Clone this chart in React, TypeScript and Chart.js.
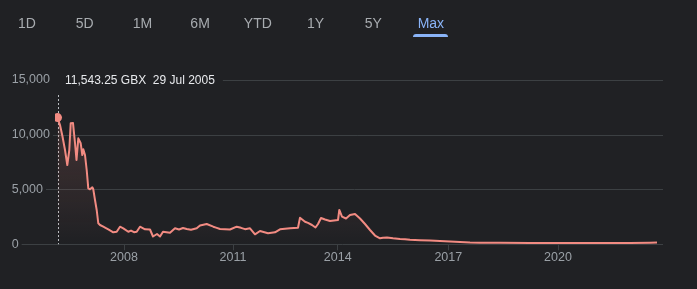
import React, { useEffect, useRef } from 'react';
import { Chart, registerables } from 'chart.js';

Chart.register(...registerables);

// x = trading-sample index along the "Max" timeline (Google-style, non-uniform in calendar time)
const tradeIdx = [
  2.5, 5, 7.5, 10, 12.3, 14.3, 15.7, 18, 20, 21.5, 23.3, 25.7, 27.3, 28.3, 30, 31.7, 33.3, 35, 37.3, 38.3,
  40, 41.7, 43.3, 45, 48.3, 50.5, 53.3, 58.3, 61.7, 65, 68.3, 73.3, 76, 79, 81.7, 85, 90, 95, 98, 102, 105, 108, 115,
  120, 124, 128, 131.7, 136, 141.7, 145, 151.7, 158.3, 161, 165, 175, 181.7, 186, 190, 195, 200, 205, 213, 220, 225, 230, 235, 243, 245, 250, 253, 257,
  260.5, 263, 266, 270, 275, 283, 284.3, 287, 291, 295, 300, 305, 310, 315, 320, 325, 328, 332, 338, 345, 350, 355,
  365, 375, 385, 395, 405, 415, 425, 445, 475, 505, 545, 575, 595, 602,
];
const priceGBX = [
  11543, 10865, 9817, 8588, 7222, 8588, 11019, 11047, 9225, 7677, 9653, 9198, 8133, 8652, 8133, 6767, 5100, 5009, 5191, 5009,
  4035, 3124, 1912, 1758, 1603, 1500, 1366, 1093, 1147, 1603, 1457, 1147, 1250, 1100, 1147, 1603, 1366, 1348, 710, 938, 710, 1147, 1056,
  1457, 1350, 1480, 1393, 1330, 1457, 1712, 1849, 1603, 1520, 1393, 1348, 1603, 1500, 1380, 1457, 911, 1211, 1002, 1093, 1366, 1420, 1457, 1512, 2422, 2058, 1950, 1758,
  1530, 1849, 2395, 2259, 2122, 2213, 3124, 2514, 2350, 2668, 2759, 2350, 1849, 1302, 801, 546, 600, 619, 546, 483, 470, 410,
  373, 346, 300, 255, 210, 164, 146, 137, 128, 118, 118, 118, 137, 155,
];
const yearTickIdx = [69, 178, 282.7, 393.3, 503];
const yearLabels = ['2008', '2011', '2014', '2017', '2020'];
const yMax = 15000;
const yStep = 5000;
const rangeTabs = ['1D', '5D', '1M', '6M', 'YTD', '1Y', '5Y', 'Max'];
const activeTab = 'Max';
const tooltipText = '11,543.25 GBX  29 Jul 2005';

const BG = '#202124';
const LINE = '#f28b82';
const GRID = '#3c4043';
const AXIS_TEXT = '#9aa0a6';
const FONT_FAMILY = 'Arial, "Liberation Sans", sans-serif';

export default function App() {
  const canvasRef = useRef<HTMLCanvasElement | null>(null);

  useEffect(() => {
    const canvas = canvasRef.current;
    if (!canvas) return;

    const overlay = {
      id: 'gfOverlay',
      beforeDatasetsDraw(chart: any) {
        const { ctx, chartArea } = chart;
        const ys = chart.scales.y;
        const xs = chart.scales.x;
        ctx.save();
        ctx.font = `12.5px ${FONT_FAMILY}`;
        ctx.strokeStyle = GRID;
        ctx.lineWidth = 1;
        ys.ticks.forEach((t: any) => {
          const label = String(t.label);
          const w = ctx.measureText(label).width;
          const y = Math.round(ys.getPixelForValue(t.value)) + 0.5;
          let x0 = ys.left + w + 3;
          if (t.value === yMax) {
            ctx.save();
            ctx.font = `12px ${FONT_FAMILY}`;
            x0 = 65 + ctx.measureText(tooltipText).width + 8;
            ctx.restore();
          }
          ctx.beginPath();
          ctx.moveTo(x0, y);
          ctx.lineTo(chartArea.right, y);
          ctx.stroke();
        });
        // dotted crosshair at the first point
        const px = Math.round(xs.getPixelForValue(tradeIdx[0])) + 0.5;
        ctx.strokeStyle = '#b8bcc0';
        ctx.setLineDash([2, 2]);
        ctx.beginPath();
        ctx.moveTo(px, 95);
        ctx.lineTo(px, chartArea.bottom);
        ctx.stroke();
        ctx.restore();
      },
      afterDraw(chart: any) {
        const { ctx } = chart;
        const ys = chart.scales.y;
        ctx.save();
        ctx.font = `12px ${FONT_FAMILY}`;
        ctx.fillStyle = '#e8eaed';
        ctx.textBaseline = 'middle';
        ctx.textAlign = 'left';
        ctx.fillText(tooltipText, 65, ys.getPixelForValue(yMax) + 1);
        ctx.restore();
      },
    };

    const chart = new Chart(canvas, {
      type: 'line',
      data: {
        datasets: [
          {
            data: tradeIdx.map((x, i) => ({ x, y: priceGBX[i] })),
            borderColor: LINE,
            borderWidth: 2,
            borderJoinStyle: 'round',
            tension: 0,
            fill: 'origin',
            backgroundColor: (c: any) => {
              const area = c.chart.chartArea;
              if (!area) return 'rgba(242,139,130,0.12)';
              const g = c.chart.ctx.createLinearGradient(0, area.top, 0, area.bottom);
              g.addColorStop(0, 'rgba(242,139,130,0.22)');
              g.addColorStop(1, 'rgba(242,139,130,0)');
              return g;
            },
            pointRadius: (c: any) => (c.dataIndex === 0 ? 4.5 : 0),
            pointStyle: 'circle',
            pointBackgroundColor: LINE,
            pointBorderColor: LINE,
            pointBorderWidth: 0,
            pointHoverRadius: 0,
          },
        ],
      },
      options: {
        responsive: false,
        animation: false,
        devicePixelRatio: 1,
        events: [],
        layout: { padding: { left: 11.7, right: 34, top: 79.6, bottom: 0 } },
        plugins: { legend: { display: false }, tooltip: { enabled: false } },
        scales: {
          x: {
            type: 'linear',
            min: 0,
            max: 608,
            border: { display: false },
            grid: { display: true, drawOnChartArea: false, drawTicks: true, tickLength: 6, color: GRID },
            afterBuildTicks: (scale: any) => {
              scale.ticks = yearTickIdx.map((v) => ({ value: v }));
            },
            afterFit: (scale: any) => {
              scale.height = 44.7;
            },
            ticks: {
              autoSkip: false,
              maxRotation: 0,
              padding: 0,
              color: AXIS_TEXT,
              font: { family: FONT_FAMILY, size: 12.5 },
              callback: (_v: any, i: number) => yearLabels[i],
            },
          },
          y: {
            type: 'linear',
            min: 0,
            max: yMax,
            border: { display: false },
            grid: { display: false },
            afterFit: (scale: any) => {
              scale.width = 43.3;
            },
            ticks: {
              stepSize: yStep,
              crossAlign: 'far',
              padding: 4,
              color: AXIS_TEXT,
              font: { family: FONT_FAMILY, size: 12.5 },
              callback: (v: any) => Number(v).toLocaleString('en-US'),
            },
          },
        },
      },
      plugins: [overlay],
    } as any);

    return () => chart.destroy();
  }, []);

  return (
    <div
      style={{
        position: 'fixed',
        left: 0,
        top: 0,
        width: 697,
        height: 289,
        background: BG,
        overflow: 'hidden',
        fontFamily: FONT_FAMILY,
      }}
    >
      <canvas ref={canvasRef} width={697} height={289} style={{ position: 'absolute', left: 0, top: 0, width: 697, height: 289 }} />
      {rangeTabs.map((t, i) => (
        <div
          key={t}
          style={{
            position: 'absolute',
            left: 27 + i * 57.7,
            top: 15,
            transform: 'translateX(-50%)',
            fontSize: 14,
            lineHeight: '16px',
            color: t === activeTab ? '#8ab4f8' : '#a8acb0',
            whiteSpace: 'nowrap',
          }}
        >
          {t}
        </div>
      ))}
      <div
        style={{
          position: 'absolute',
          left: 413,
          top: 34,
          width: 35,
          height: 3,
          background: '#8ab4f8',
          borderRadius: '3px 3px 0 0',
        }}
      />
    </div>
  );
}
